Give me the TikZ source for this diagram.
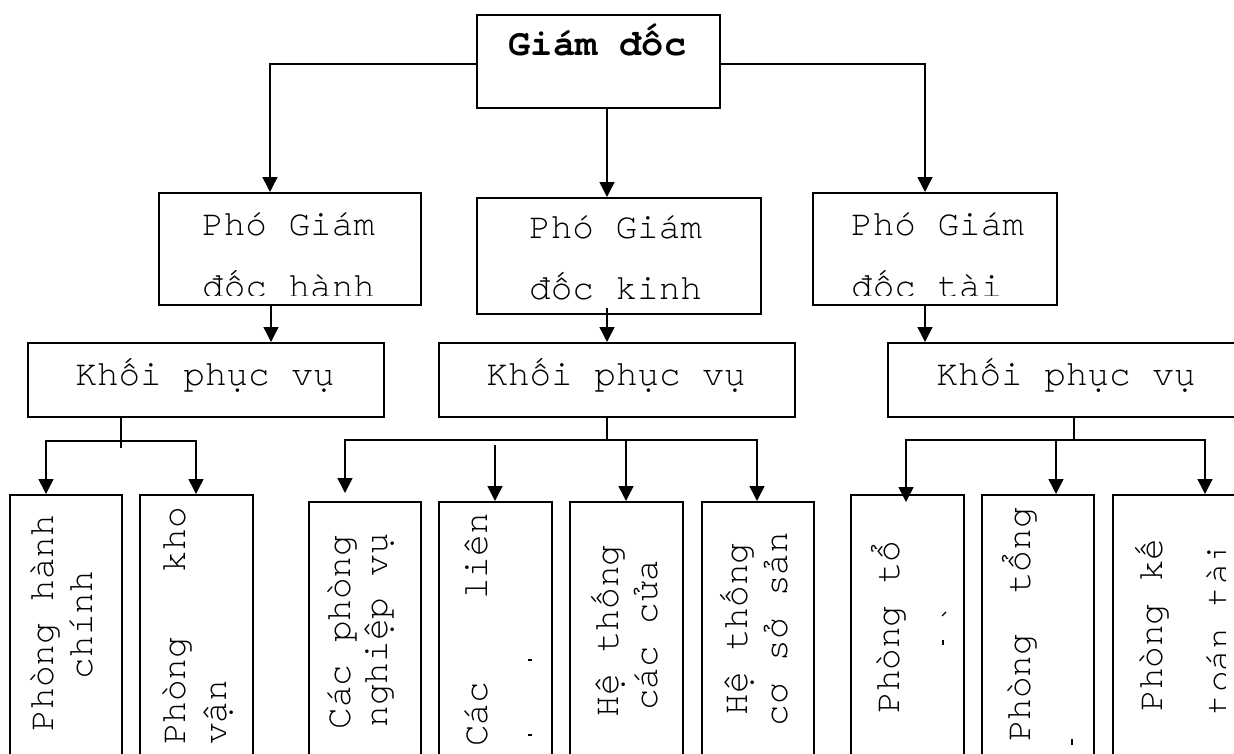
\documentclass[tikz,border=0pt]{standalone}
\usepackage{fontspec}
\newfontfamily\cour{TeX Gyre Cursor}
\usetikzlibrary{arrows.meta}
\begin{document}
\begin{tikzpicture}[x=1pt,y=-1pt,
  box/.style={draw, line width=1.8pt, inner sep=0pt, anchor=north west},
  arr/.style={line width=1.5pt, -{Triangle[length=15pt,width=15pt]}},
  ln/.style={line width=1.5pt},
  txt/.style={font=\cour\fontsize{36}{40}\selectfont, inner sep=0pt},
  vtxt/.style={txt, rotate=90},
  tick/.style={line width=1.3pt}]
\useasboundingbox (0,0) rectangle (1234,753);
\clip (0,0) rectangle (1234,753);

% ---- boxes ----
\node[box, minimum width=243pt, minimum height=93pt] (gd) at (476,14) {};
\node[box, minimum width=262pt, minimum height=112pt] (pgh) at (158,192) {};
\node[box, minimum width=284pt, minimum height=116pt] (pgk) at (476,197) {};
\node[box, minimum width=244pt, minimum height=112pt] (pgt) at (812,192) {};
\node[box, minimum width=356pt, minimum height=74pt] (kh) at (27,342) {};
\node[box, minimum width=356pt, minimum height=74pt] (kk) at (438,342) {};
\node[box, minimum width=358pt, minimum height=74pt] (kt) at (887,342) {};
\node[box, minimum width=112pt, minimum height=290pt] (b1) at (9,494) {};
\node[box, minimum width=113pt, minimum height=290pt] (b2) at (139,494) {};
\node[box, minimum width=112pt, minimum height=290pt] (c1) at (308,501) {};
\node[box, minimum width=113pt, minimum height=290pt] (c2) at (438,501) {};
\node[box, minimum width=113pt, minimum height=290pt] (c3) at (569,501) {};
\node[box, minimum width=112pt, minimum height=290pt] (c4) at (701,501) {};
\node[box, minimum width=113pt, minimum height=290pt] (d1) at (850,494) {};
\node[box, minimum width=112pt, minimum height=290pt] (d2) at (981,494) {};
\node[box, minimum width=140pt, minimum height=290pt] (d3) at (1112,494) {};

% ---- texts ----
\node[txt, font=\cour\bfseries\fontsize{37}{40}\selectfont, anchor=base] (tgd) at (597.5,55) {Giám đốc};

\node[txt, anchor=base west] (tpgh1) at (202,235) {Phó Giám};
\begin{scope}
  \clip (pgh.north west) rectangle ([yshift=10pt]pgh.south east);
  \node[txt, anchor=base west] (tpgh2) at (202,297) {đốc hành};
\end{scope}
\node[txt, anchor=base west] (tpgk1) at (529,238) {Phó Giám};
\begin{scope}
  \clip (pgk.north west) rectangle ([yshift=10pt]pgk.south east);
  \node[txt, anchor=base west] (tpgk2) at (529,299) {đốc kinh};
\end{scope}
\node[txt, anchor=base west] (tpgt1) at (851,235) {Phó Giám};
\begin{scope}
  \clip (pgt.north west) rectangle ([yshift=10pt]pgt.south east);
  \node[txt, anchor=base west] (tpgt2) at (851,297) {đốc tài};
\end{scope}

\node[txt, anchor=base] (tkh) at (205,385) {Khối phục vụ};
\node[txt, anchor=base] (tkk) at (616,385) {Khối phục vụ};
\node[txt, anchor=base] (tkt) at (1066,385) {Khối phục vụ};

% group 1
\node[vtxt, anchor=base] (tb1a) at (53,623) {Phòng hành};
\node[vtxt, anchor=base] (tb1b) at (92,625) {chính};
\node[vtxt, anchor=base west] (tb2a) at (185,745) {Phòng};
\node[vtxt, anchor=base east] (tb2b) at (185,507) {kho};
\node[vtxt, anchor=base west] (tb2c) at (226,745) {vận};
% group 2
\node[vtxt, anchor=base] (tc1a) at (350,632) {Các phòng};
\node[vtxt, anchor=base] (tc1b) at (387,630) {nghiệp vụ};
\node[vtxt, anchor=base west] (tc2a) at (487,747) {Các};
\node[vtxt, anchor=base east] (tc2b) at (487,513) {liên};
\draw[tick] (528,660) -- (532,660);
\draw[tick] (528,735) -- (532,735);
\node[vtxt, anchor=base] (tc3a) at (618,631) {Hệ thống};
\node[vtxt, anchor=base] (tc3b) at (657,635) {các cửa};
\node[vtxt, anchor=base] (tc4a) at (747,629) {Hệ thống};
\node[vtxt, anchor=base] (tc4b) at (787,629) {cơ sở sản};
% group 3
\node[vtxt, anchor=base] (td1a) at (899,627) {Phòng tổ};
\draw[tick] (942,616) -- (946,612);
\draw[tick] (943,640) -- (943,645);
\node[vtxt, anchor=base west] (td2a) at (1030,742) {Phòng};
\node[vtxt, anchor=base east] (td2b) at (1030,507) {tổng};
\draw[tick] (1072,739) -- (1072,745);
\node[vtxt, anchor=base] (td3a) at (1162,625) {Phòng kế};
\begin{scope}
  \clip (1112,494) rectangle (1225,753);
  \node[vtxt, anchor=base] (td3b) at (1229,628) {toán tài};
\end{scope}

% ---- connectors ----
\draw[arr] ([yshift=-2.5pt]gd.west) -| ([xshift=112pt]pgh.north west);
\draw[arr] ([yshift=-2.5pt]gd.east) -| ([xshift=113pt]pgt.north west);
\draw[arr] ([xshift=131pt]gd.south west) -- ([xshift=131pt]pgk.north west);

\draw[arr] ([xshift=113pt]pgh.south west) -- ([xshift=244pt]kh.north west);
\draw[arr] ([xshift=131pt,yshift=7pt]pgk.south west) -- ([xshift=169pt]kk.north west);
\draw[arr] ([xshift=113pt]pgt.south west) -- ([xshift=38pt]kt.north west);

% group 1
\coordinate (khj) at ([xshift=94pt,yshift=-23pt]kh.south west);
\draw[ln] ([xshift=94pt]kh.south west) -- ++(0,30);
\draw[arr] (khj) -| ([xshift=37pt]b1.north west);
\draw[arr] (khj) -| ([xshift=57pt]b2.north west);

% group 2
\coordinate (kkj) at ([xshift=169pt,yshift=-22pt]kk.south west);
\draw[ln] ([xshift=169pt]kk.south west) -- (kkj);
\draw[arr] (kkj) -| ([xshift=37pt,yshift=8pt]c1.north west);
\draw[arr] (kkj) -| ([xshift=57pt]c3.north west);
\draw[arr] (kkj) -| ([xshift=56pt]c4.north west);
\draw[arr] ([xshift=57pt,yshift=56pt]c2.north west) -- ([xshift=57pt]c2.north west);

% group 3
\coordinate (ktj) at ([xshift=187pt,yshift=-22pt]kt.south west);
\draw[ln] ([xshift=187pt]kt.south west) -- (ktj);
\draw[arr] (ktj) -| ([xshift=56pt,yshift=-8pt]d1.north west);
\draw[arr] (ktj) -| ([xshift=75pt]d2.north west);
\draw[arr] (ktj) -| ([xshift=93pt]d3.north west);
\end{tikzpicture}
\end{document}
